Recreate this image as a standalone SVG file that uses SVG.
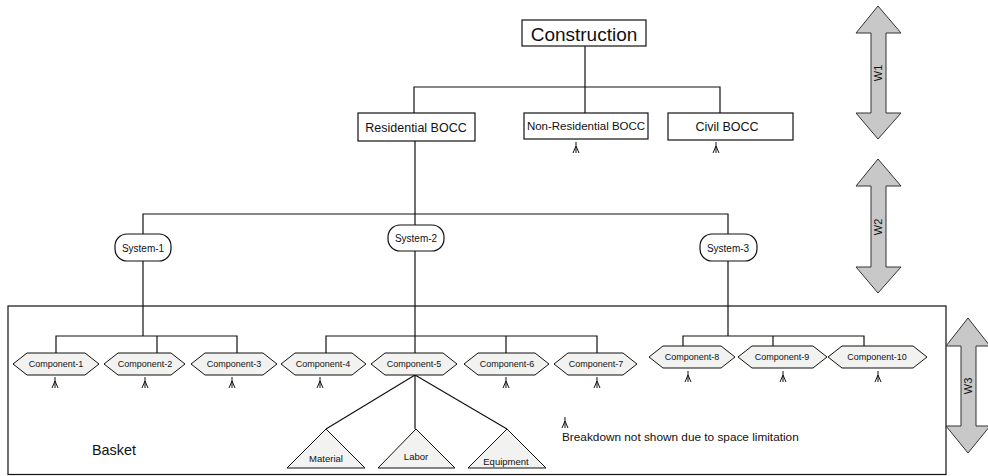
<svg xmlns="http://www.w3.org/2000/svg" width="988" height="476" viewBox="0 0 988 476">
<defs>
<style>
text{font-family:"Liberation Sans",Arial,sans-serif;fill:#111;text-anchor:middle;dominant-baseline:central}
.box{fill:#fff;stroke:#111;stroke-width:1.2}
.hex{fill:#f2f2f0;stroke:#111;stroke-width:1}
.tri{fill:#f2f2f0;stroke:#111;stroke-width:1}
.ln{fill:none;stroke:#111;stroke-width:1.2}
.cf{fill:none;stroke:#111;stroke-width:1}
.arr{fill:#c8c8c8;stroke:#333;stroke-width:1}
.c{font-size:9px}
</style>
<g id="crow"><path class="cf" d="M0,0 V11 M0,4 L-3,11 M0,4 L3,11"/></g>
</defs>
<rect id="basket" x="8" y="306" width="938" height="168.5" fill="none" stroke="#111" stroke-width="1.2"/>
<g id="connectors">
<path class="ln" d="M585,46 V113 M414,113 V87 H720 V113"/>
<path class="ln" d="M415,141 V225 M143,234 V214 H728 V234"/>
<path class="ln" d="M143,261 V336 M56,353 V336 H237 V353 M157,336 V353"/>
<path class="ln" d="M415,251 V353 M326,353 V336 H597 V353 M506,336 V353"/>
<path class="ln" d="M728,261 V336 M683,346 V336 H864 V346 M773,336 V346"/>
<path class="ln" d="M415,375 L326,429 M415,375 V429 M415,375 L507,429"/>
<use href="#crow" x="576" y="142"/>
<use href="#crow" x="716" y="142"/>
<use href="#crow" x="55" y="377"/>
<use href="#crow" x="145" y="377"/>
<use href="#crow" x="232" y="377"/>
<use href="#crow" x="320" y="377"/>
<use href="#crow" x="506" y="377"/>
<use href="#crow" x="597" y="377"/>
<use href="#crow" x="688" y="371"/>
<use href="#crow" x="783" y="371"/>
<use href="#crow" x="878" y="371"/>
<use href="#crow" x="565" y="417"/>
</g>
<g id="construction"><rect class="box" x="522" y="20" width="124" height="26"/><text x="584" y="34" font-size="19">Construction</text></g>
<g id="residential"><rect class="box" x="358" y="113" width="117" height="28"/><text x="416" y="128" font-size="12.5">Residential BOCC</text></g>
<g id="nonresidential"><rect class="box" x="524" y="113" width="124" height="26"/><text x="586" y="126" font-size="11.5">Non-Residential BOCC</text></g>
<g id="civil"><rect class="box" x="668" y="113" width="125" height="27"/><text x="727" y="127" font-size="12.5">Civil BOCC</text></g>
<g id="system1"><rect class="box" x="115" y="234" width="56" height="27" rx="12"/><text x="143" y="248" font-size="10">System-1</text></g>
<g id="system2"><rect class="box" x="388" y="225" width="56" height="26" rx="12"/><text x="416" y="238" font-size="10">System-2</text></g>
<g id="system3"><rect class="box" x="700" y="234" width="57" height="27" rx="12"/><text x="728" y="248" font-size="10">System-3</text></g>
<g id="component1"><polygon class="hex" points="13,364 27,353 85,353 99,364 85,375 27,375"/><text class="c" x="56" y="364">Component-1</text></g>
<g id="component2"><polygon class="hex" points="104,364 118,353 171,353 185,364 171,375 118,375"/><text class="c" x="145" y="364">Component-2</text></g>
<g id="component3"><polygon class="hex" points="191,364 205,353 263,353 277,364 263,375 205,375"/><text class="c" x="234" y="364">Component-3</text></g>
<g id="component4"><polygon class="hex" points="281,364 295,353 352,353 366,364 352,375 295,375"/><text class="c" x="323" y="364">Component-4</text></g>
<g id="component5"><polygon class="hex" points="371,364 385,353 443,353 457,364 443,375 385,375"/><text class="c" x="414" y="364">Component-5</text></g>
<g id="component6"><polygon class="hex" points="464,364 478,353 535,353 549,364 535,375 478,375"/><text class="c" x="507" y="364">Component-6</text></g>
<g id="component7"><polygon class="hex" points="554,364 568,353 623,353 637,364 623,375 568,375"/><text class="c" x="596" y="364">Component-7</text></g>
<g id="component8"><polygon class="hex" points="649,357 663,346 721,346 735,357 721,368 663,368"/><text class="c" x="692" y="357">Component-8</text></g>
<g id="component9"><polygon class="hex" points="738,357 752,346 813,346 827,357 813,368 752,368"/><text class="c" x="782" y="357">Component-9</text></g>
<g id="component10"><polygon class="hex" points="828,357 842,346 913,346 927,357 913,368 842,368"/><text class="c" x="877" y="357">Component-10</text></g>
<g id="material"><polygon class="tri" points="326,429 365,468 287,468"/><text x="326" y="458" font-size="9.5">Material</text></g>
<g id="labor"><polygon class="tri" points="416,429 455,468 378,468"/><text x="416" y="456" font-size="9.5">Labor</text></g>
<g id="equipment"><polygon class="tri" points="507,429 546,468 468,468"/><text x="506" y="461" font-size="9.5">Equipment</text></g>
<text x="114" y="450" font-size="14.4">Basket</text>
<text x="562" y="437" font-size="11.8" style="text-anchor:start">Breakdown not shown due to space limitation</text>
<g id="w1"><polygon class="arr" points="878,6 901,33 886,33 886,113 901,113 878,139 856,113 871,113 871,33 856,33"/><text x="878" y="73" font-size="11" transform="rotate(-90 878 73)">W1</text></g>
<g id="w2"><polygon class="arr" points="878,159 901,186 886,186 886,267 901,267 878,293 856,267 871,267 871,186 856,186"/><text x="878" y="227" font-size="11" transform="rotate(-90 878 227)">W2</text></g>
<g id="w3"><polygon class="arr" points="968,318 990,346 976,346 976,426 990,426 968,453 946,426 961,426 961,346 946,346"/><text x="968" y="386" font-size="11" transform="rotate(-90 968 386)">W3</text></g>
</svg>
